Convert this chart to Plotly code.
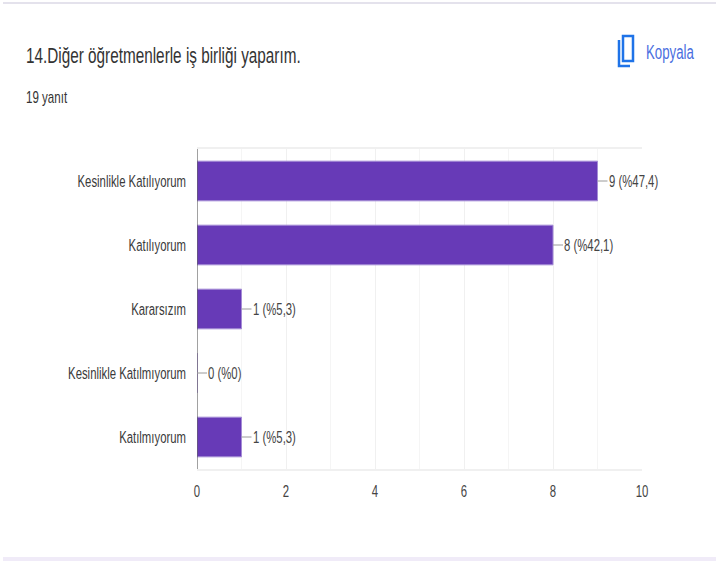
import plotly.graph_objects as go

categories = ["Kesinlikle Katılıyorum", "Katılıyorum", "Kararsızım", "Kesinlikle Katılmıyorum", "Katılmıyorum"]
values = [9, 8, 1, 0, 1]
labels = ["9 (%47,4)", "8 (%42,1)", "1 (%5,3)", "0 (%0)", "1 (%5,3)"]
x_ticks = [0, 2, 4, 6, 8, 10]
title_text = "14.Diğer öğretmenlerle iş birliği yaparım."
subtitle_text = "19 yanıt"
copy_text = "Kopyala"

W, H = 716, 561
L, R, T, B = 197, 642, 149, 469
FONT = "Liberation Sans, Arial, sans-serif"
CONDENSE = 0.68
LABEL_SIZE = 16.7

def px(x):
    return (x - L) / (R - L)

def py(y):
    return (B - y) / (B - T)

fig = go.Figure(go.Bar(
    x=values, y=categories, orientation="h", width=0.62,
    marker=dict(color="#673ab7", line=dict(color="#a58cd6", width=1)),
    hoverinfo="skip",
))

for cat, val, lab in zip(categories, values, labels):
    fig.add_annotation(
        x=val, y=cat, xref="x", yref="y", text=lab, showarrow=True, align="left",
        arrowhead=0, arrowwidth=1, arrowcolor="#9a9a9a", ax=10, ay=0,
        axref="pixel", ayref="pixel", xanchor="left", yanchor="middle", standoff=0,
        font=dict(family=FONT, size=LABEL_SIZE, color="#444444"), borderpad=0,
    )

def text(x, y, s, size, color):
    fig.add_annotation(x=px(x), y=py(y), xref="paper", yref="paper", text=s, showarrow=False,
                       align="left", xanchor="left", yanchor="middle", borderpad=0,
                       font=dict(family=FONT, size=size, color=color))

text(25, 55, title_text, 22.5, "#333333")
text(25, 98, subtitle_text, 17, "#333333")
text(645, 52, copy_text, 19.5, "#4a6fe0")

def rect(x0, y0, x1, y1, **kw):
    fig.add_shape(type="rect", xref="paper", yref="paper", x0=px(x0), x1=px(x1), y0=py(y0), y1=py(y1),
                  layer="below", **kw)

rect(3, 2, W, 4, fillcolor="#e4e2ec", line_width=0)
rect(3, 557, W, H, fillcolor="#f0ebf8", line_width=0)
# copy icon
rect(623, 36, 633, 61, fillcolor="rgba(0,0,0,0)", line=dict(color="#1f73e8", width=2.5))
fig.add_shape(type="path", xref="paper", yref="paper", layer="below",
              path=f"M {px(619)} {py(40)} L {px(619)} {py(66)} L {px(630)} {py(66)}",
              line=dict(color="#1f73e8", width=2.5))

fig.update_layout(
    width=W, height=H, paper_bgcolor="white", plot_bgcolor="white", showlegend=False,
    margin=dict(l=L, r=W - R, t=T, b=H - B, autoexpand=False),
    font=dict(family=FONT, size=LABEL_SIZE, color="#444444"),
)
fig.update_xaxes(range=[0, 10], tickvals=x_ticks, showgrid=True, gridcolor="#f0f0f0", gridwidth=1,
                 minor=dict(dtick=1, showgrid=True, gridcolor="#f5f5f5"),
                 zeroline=False, showline=True, linecolor="#f0f0f0", linewidth=2, mirror=True,
                 tickfont=dict(family=FONT, size=LABEL_SIZE, color="#444444"), ticks="",
                 ticklabelstandoff=6, fixedrange=True)
fig.update_yaxes(categoryorder="array", categoryarray=categories, autorange="reversed",
                 showgrid=False, zeroline=False, showline=False, ticks="",
                 tickfont=dict(family=FONT, size=LABEL_SIZE, color="#3a3a3a"),
                 ticklabelstandoff=10, fixedrange=True)
fig.add_shape(type="line", xref="x", yref="paper", x0=0, x1=0, y0=0, y1=1, line=dict(color="#444444", width=1))

condense_js = (
    "document.body.style.margin='0';document.documentElement.style.overflow='hidden';"
    "document.querySelectorAll('.main-svg text').forEach(function(t){"
    "var n=t.getComputedTextLength();if(n>0){"
    "t.setAttribute('lengthAdjust','spacingAndGlyphs');"
    f"t.setAttribute('textLength',n*{CONDENSE});}}}});"
)
fig.write_html("out.html", config=dict(displayModeBar=False), post_script=condense_js)
